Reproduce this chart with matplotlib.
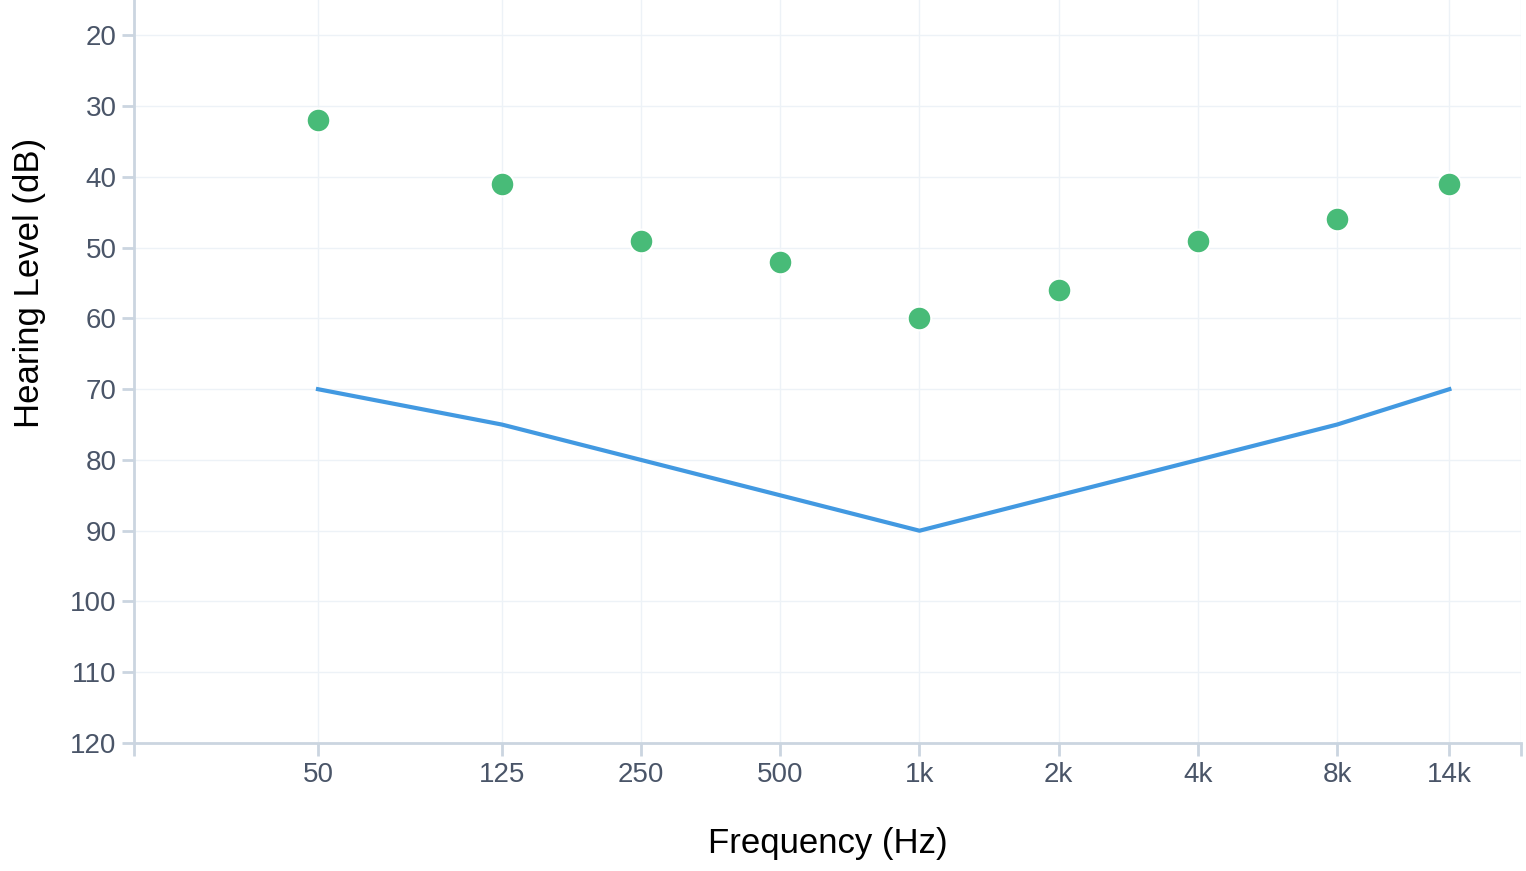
import matplotlib.pyplot as plt

# audiogram data
freqs = [50, 125, 250, 500, 1000, 2000, 4000, 8000, 14000]
tick_labels = ["50", "125", "250", "500", "1k", "2k", "4k", "8k", "14k"]
hearing = [32, 41, 49, 52, 60, 56, 49, 46, 41]
threshold = [70, 75, 80, 85, 90, 85, 80, 75, 70]
y_ticks = [20, 30, 40, 50, 60, 70, 80, 90, 100, 110, 120]

plt.rcParams['font.family'] = ['Liberation Sans', 'DejaVu Sans']

axis_col = "#cbd5e0"
grid_col = "#edf2f7"
text_col = "#4a5568"

fig = plt.figure(figsize=(15.26, 8.71), dpi=100)
ax = fig.add_axes([134/1526, 1 - 743/871, (1521-134)/1526, 743/871])

ax.plot(freqs, threshold, color="#4299e1", lw=3, zorder=3)
ax.scatter(freqs, hearing, s=17**2, color="#48bb78", edgecolor="white", linewidth=1.5, zorder=4)

ax.set_xscale("log")
ax.set_xlim(20, 20000)
ax.set_ylim(120, 15)

ax.set_xticks([20] + freqs + [20000])
ax.set_xticklabels([""] + tick_labels + [""])
ax.minorticks_off()
ax.set_yticks(y_ticks)

ax.grid(True, color=grid_col, lw=1)
ax.set_axisbelow(True)
for s in ["top", "right"]:
    ax.spines[s].set_visible(False)
for s in ["left", "bottom"]:
    ax.spines[s].set_color(axis_col)
    ax.spines[s].set_linewidth(2)

ax.tick_params(axis="both", colors=axis_col, length=9, width=2, labelsize=20, labelcolor=text_col)
ax.tick_params(axis="x", pad=5)

ax.set_xlabel("Frequency (Hz)", fontsize=25, color="black", labelpad=28)
ax.set_ylabel("Hearing Level (dB)", fontsize=25, color="black")
ax.yaxis.set_label_coords((46 - 134) / 1387, (743 - 283) / 743)

fig.savefig("out.png", dpi=100)
